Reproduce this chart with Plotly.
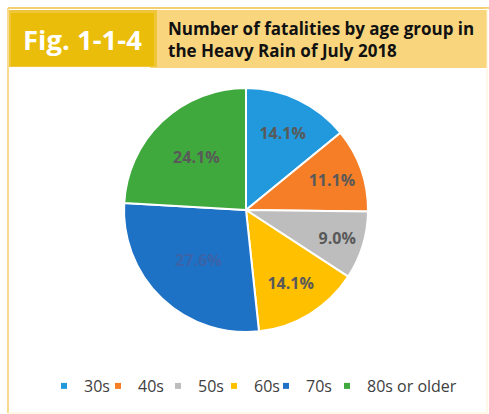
import plotly.graph_objects as go

categories = ["30s", "40s", "50s", "60s", "70s", "80s or older"]
shares = [14.1, 11.1, 9.0, 14.1, 27.6, 24.1]
colors = ["#2299DD", "#F57E27", "#BDBDBD", "#FFC000", "#1E72C6", "#3FA93D"]
label_colors = ["#595959", "#595959", "#595959", "#595959", "#3A63A8", "#595959"]
fig_label = "Fig. 1-1-4"
title_lines = ["Number of fatalities by age group in", "the Heavy Rain of July 2018"]

W, H = 489, 414
FONT = "Open Sans"

fig = go.Figure()
fig.add_trace(go.Pie(
    labels=categories,
    values=shares,
    sort=False,
    direction="clockwise",
    rotation=0,
    marker=dict(colors=colors, line=dict(color="white", width=2)),
    texttemplate="%{value:.1f}%",
    textposition="inside",
    insidetextorientation="horizontal",
    textfont=dict(family=FONT, size=16, color=label_colors, weight="bold"),
    showlegend=False,
    hoverinfo="label+percent",
    domain=dict(x=[124 / W, 368 / W], y=[1 - 332 / H, 1 - 88 / H]),
))

# one legend box per entry, so each entry sits where the reference puts it
legend_text_x = [84, 138, 198, 254, 306, 367]
legend_ids = ["legend", "legend2", "legend3", "legend4", "legend5", "legend6"]
for cat, col, lid in zip(categories, colors, legend_ids):
    fig.add_trace(go.Scatter(
        x=[None], y=[None], mode="markers", name=cat,
        marker=dict(symbol="square", size=6, color=col),
        showlegend=True, legend=lid,
    ))

shapes = [
    dict(type="line", xref="paper", yref="paper", x0=8 / W, x1=8 / W, y0=1 - 413 / H, y1=1 - 8 / H,
         line=dict(color="#F8DC8C", width=2)),
    dict(type="line", xref="paper", yref="paper", x0=8 / W, x1=1, y0=1 - 8 / H, y1=1 - 8 / H,
         line=dict(color="#F3CF74", width=2)),
    dict(type="line", xref="paper", yref="paper", x0=487 / W, x1=487 / W, y0=1 - 413 / H, y1=1 - 8 / H,
         line=dict(color="#FDF1CF", width=1)),
    dict(type="line", xref="paper", yref="paper", x0=8 / W, x1=487 / W, y0=1 - 413 / H, y1=1 - 413 / H,
         line=dict(color="#FDF1CF", width=1)),
    dict(type="rect", xref="paper", yref="paper", x0=150 / W, x1=487 / W, y0=1 - 68 / H, y1=1 - 10 / H,
         fillcolor="#F9D67E", line=dict(width=0), layer="below"),
    dict(type="rect", xref="paper", yref="paper", x0=9 / W, x1=157 / W, y0=1 - 67 / H, y1=1 - 10 / H,
         fillcolor="#EFC63A", line=dict(width=0), layer="below"),
    dict(type="rect", xref="paper", yref="paper", x0=11 / W, x1=154 / W, y0=1 - 66 / H, y1=1 - 13 / H,
         fillcolor="#EABD0A", line=dict(width=0), layer="below"),
]

annotations = [
    dict(text=f"<b>{fig_label}</b>", xref="paper", yref="paper", x=82 / W, y=1 - 40 / H,
         xanchor="center", yanchor="middle", showarrow=False,
         font=dict(family=FONT, size=27.5, color="white")),
    dict(text="<b>" + "<br>".join(title_lines) + "</b>", xref="paper", yref="paper",
         x=166 / W, y=1 - 40 / H, xanchor="left", yanchor="middle", align="left", showarrow=False,
         font=dict(family=FONT, size=17, color="#111111")),
]

legend_style = dict(orientation="h", yanchor="middle",
                    font=dict(family=FONT, size=16, color="#404040"),
                    bgcolor="rgba(0,0,0,0)", itemclick=False, itemdoubleclick=False)
layout_legends = {}
for lid, tx in zip(legend_ids, legend_text_x):
    layout_legends[lid] = dict(legend_style, x=(tx - 40) / W, y=1 - 386 / H, xanchor="left")

fig.update_layout(
    width=W, height=H,
    margin=dict(l=0, r=0, t=0, b=0),
    paper_bgcolor="white", plot_bgcolor="white",
    shapes=shapes, annotations=annotations,
    xaxis=dict(visible=False, domain=[0, 0.01]),
    yaxis=dict(visible=False, domain=[0, 0.01]),
    font=dict(family=FONT),
    **layout_legends,
)

fig.write_html("out.html", config={"displayModeBar": False},
               post_script="document.body.style.margin='0';")
